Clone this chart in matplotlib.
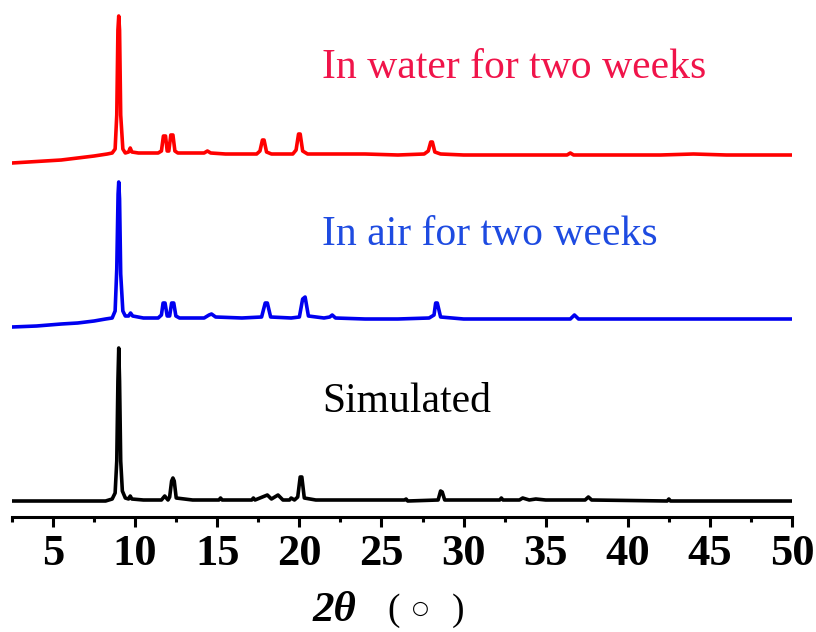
import matplotlib.pyplot as plt

# 2theta (deg) and intensity (a.u., above each trace's own baseline)
water_2theta = [2.5, 3.5, 4.5, 5.5, 6.5, 7.5, 8.3, 8.6, 8.78, 8.88, 8.95, 9.0, 9.05, 9.12, 9.25,
                9.4, 9.6, 9.7, 9.8, 10.2, 10.8, 11.4, 11.6, 11.72, 11.85, 11.95, 12.05, 12.17,
                12.3, 12.42, 12.6, 13.5, 14.2, 14.4, 14.6, 15.5, 16.5, 17.4, 17.6, 17.75, 17.85,
                18.0, 18.3, 19.0, 19.6, 19.8, 19.95, 20.05, 20.2, 20.5, 22.0, 24.0, 26.0, 27.6,
                27.85, 28.0, 28.1, 28.25, 28.6, 30.0, 32.0, 34.0, 36.3, 36.5, 36.7, 40.0, 42.0,
                44.0, 46.0, 50.0]
water_int = [-8, -7, -6, -5, -3, -1, 1, 2, 6, 40, 125, 139, 125, 40, 6,
             2, 3, 7, 3, 2, 2, 2, 4, 19, 19, 4, 4, 20,
             20, 4, 2, 2, 2, 4, 2, 1, 1, 1, 4, 15, 15,
             3, 1, 1, 1, 5, 21, 21, 4, 1, 1, 1, 0, 1,
             4, 13, 13, 3, 1, 0, 0, 0, 0, 2, 0, 0, 0,
             1, 0, 0]

air_2theta = [2.5, 4.0, 5.5, 6.5, 7.5, 8.2, 8.6, 8.78, 8.88, 8.96, 9.0, 9.05, 9.12, 9.25, 9.4,
              9.6, 9.72, 9.85, 10.5, 11.4, 11.6, 11.7, 11.82, 11.95, 12.1, 12.22, 12.35, 12.48,
              12.7, 14.2, 14.5, 14.65, 14.9, 16.5, 17.7, 17.92, 18.05, 18.25, 19.5, 20.0, 20.2,
              20.35, 20.55, 21.5, 21.85, 22.0, 22.2, 24.0, 26.0, 27.9, 28.2, 28.3, 28.4, 28.6,
              30.0, 32.0, 34.0, 36.5, 36.75, 37.0, 40.0, 44.0, 50.0]
air_int = [-8, -7, -5, -4, -2, 0, 1, 8, 50, 125, 137, 120, 45, 8, 3,
           3, 6, 3, 1, 1, 4, 16, 16, 3, 3, 16, 16, 3,
           1, 1, 4, 5, 2, 1, 2, 16, 16, 2, 1, 2, 20,
           22, 3, 1, 2, 4, 1, 0, 0, 1, 4, 16, 16, 2,
           0, 0, 0, 0, 4, 0, 0, 0, 0]

sim_2theta = [2.5, 8.2, 8.6, 8.78, 8.88, 8.95, 9.0, 9.05, 9.12, 9.22, 9.4, 9.6, 9.7, 9.8, 10.5,
              11.6, 11.8, 12.0, 12.1, 12.22, 12.3, 12.38, 12.5, 13.5, 15.1, 15.2, 15.3, 17.1,
              17.2, 17.3, 17.6, 18.05, 18.3, 18.7, 19.0, 19.4, 19.5, 19.7, 19.9, 20.05, 20.15,
              20.3, 21.0, 26.4, 26.5, 26.6, 28.45, 28.6, 28.7, 28.85, 32.2, 32.3, 32.4, 33.4,
              33.6, 34.0, 34.4, 35.0, 35.3, 37.4, 37.6, 37.8, 42.4, 42.5, 42.6, 50.0]
sim_int = [0, 0, 2, 8, 40, 120, 153, 120, 40, 10, 3, 2, 5, 2, 1,
           1, 5, 1, 4, 20, 23, 20, 3, 1, 1, 3, 1, 1,
           3, 1, 3, 6, 2, 6, 1, 1, 3, 1, 4, 24, 24,
           3, 1, 1, 2, 0, 1, 10, 9, 1, 1, 3, 1, 1,
           3, 1, 2, 1, 1, 1, 4, 1, 0, 2, 0, 0]

labels = ['In water for two weeks', 'In air for two weeks', 'Simulated']
label_colors = ['#f0144a', '#1e4be1', 'black']
line_colors = ['#ff0000', '#0000f0', 'black']
offsets = [362, 198, 16]

plt.rcParams['font.family'] = ['Liberation Serif', 'Noto Sans CJK SC', 'DejaVu Sans']

fig = plt.figure(figsize=(8.16, 6.32), dpi=100)
ax = fig.add_axes([12 / 816, 115 / 632, 780 / 816, 517 / 632])

series = [(water_2theta, water_int), (air_2theta, air_int), (sim_2theta, sim_int)]
for (x, y), off, c in zip(series, offsets, line_colors):
    ax.plot(x, [v + off for v in y], color=c, lw=2.6, solid_joinstyle='round')

# sample labels
label_y = [439, 272, 105]
for txt, ly, c in zip(labels, label_y, label_colors):
    ax.text(21.4, ly, txt, color=c, fontsize=30, ha='left', va='baseline')

ax.set_xlim(2.5, 50)
ax.set_ylim(0, 517)
ax.set_xticks(range(5, 51, 5))
ax.set_xticks([2.5 + 5 * i for i in range(10)], minor=True)
ax.tick_params(axis='x', which='major', direction='out', length=7, width=2.2,
               labelsize=32, pad=5)
ax.tick_params(axis='x', which='minor', direction='out', length=3.6, width=2.2)
for lab in ax.get_xticklabels():
    lab.set_fontweight('bold')
ax.set_yticks([])
for s in ['top', 'right', 'left']:
    ax.spines[s].set_visible(False)
ax.spines['bottom'].set_linewidth(2.2)

# x-axis label: 2θ（°）
fig.text(313 / 816, 1 - 621 / 632, '2θ', fontsize=31, fontweight='bold', style='italic',
         ha='left', va='baseline')
fig.text(394 / 816, 1 - 620 / 632, '(', fontsize=27, ha='center', va='baseline')
fig.text(420 / 816, 1 - 608 / 632, '○', fontsize=14, family=['DejaVu Sans'],
         ha='center', va='center')
fig.text(458 / 816, 1 - 620 / 632, ')', fontsize=27, ha='center', va='baseline')

fig.savefig('out.png', dpi=100)
